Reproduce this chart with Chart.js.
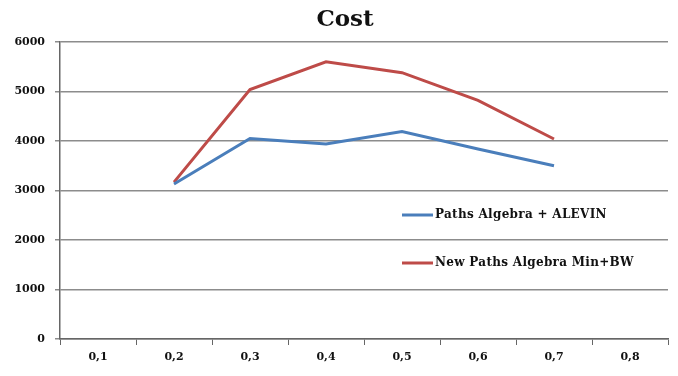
<!DOCTYPE html>
<html>
<head>
<meta charset="utf-8">
<script src="https://cdn.jsdelivr.net/npm/chart.js@4/dist/chart.umd.min.js"></script>
<style>
  html, body { margin: 0; padding: 0; background: #fff; }
  #wrap { width: 678px; height: 376px; }
</style>
</head>
<body>
<div id="wrap"><canvas id="cost"></canvas></div>
<script>
const categories = ['0,1', '0,2', '0,3', '0,4', '0,5', '0,6', '0,7', '0,8'];
const series_names = ['Paths Algebra + ALEVIN', 'New Paths Algebra Min+BW'];
const paths_alevin = [null, 3130, 4050, 3940, 4190, 3840, 3500, null];
const paths_minbw = [null, 3170, 5040, 5600, 5380, 4820, 4040, null];
const y_ticks = [0, 1000, 2000, 3000, 4000, 5000, 6000];
const chart_title = 'Cost';

const serif = '"DejaVu Serif", "Liberation Serif", serif';
const grid_color = '#8c8c8c';

// title sits a bit right of the canvas centre, so draw it by hand
const titlePlugin = {
    id: 'titlePlugin',
    afterDraw(chart) {
        const ctx = chart.ctx;
        ctx.save();
        ctx.fillStyle = '#111';
        ctx.font = 'bold 23px ' + serif;
        ctx.textAlign = 'center';
        ctx.textBaseline = 'middle';
        ctx.fillText(chart_title, 345, 20);
        ctx.restore();
    }
};

// legend drawn inside the plot, to the right
const insideLegend = {
    id: 'insideLegend',
    afterDatasetsDraw(chart) {
        const ctx = chart.ctx;
        const rows = [215, 263];
        ctx.save();
        chart.data.datasets.forEach((ds, i) => {
            const y = rows[i];
            ctx.strokeStyle = ds.borderColor;
            ctx.lineWidth = 3;
            ctx.beginPath();
            ctx.moveTo(402, y);
            ctx.lineTo(433, y);
            ctx.stroke();
            ctx.fillStyle = '#111';
            ctx.font = 'bold 12px ' + serif;
            ctx.letterSpacing = '0.3px';
            ctx.textBaseline = 'middle';
            ctx.fillText(ds.label, 435, y);
        });
        ctx.restore();
    }
};

new Chart(document.getElementById('cost').getContext('2d'), {
    type: 'line',
    data: {
        labels: categories,
        datasets: [{
            label: series_names[0],
            data: paths_alevin,
            borderColor: '#4a7ebb',
            borderWidth: 3,
            pointRadius: 0,
            tension: 0,
            spanGaps: false
        }, {
            label: series_names[1],
            data: paths_minbw,
            borderColor: '#be4b48',
            borderWidth: 3,
            pointRadius: 0,
            tension: 0,
            spanGaps: false
        }]
    },
    options: {
        responsive: true,
        maintainAspectRatio: false,
        animation: false,
        layout: { padding: { left: 0, right: 10, top: 42, bottom: 0 } },
        plugins: {
            legend: { display: false },
            tooltip: { enabled: false },
            title: { display: false }
        },
        scales: {
            x: {
                offset: true,
                grid: {
                    offset: true,
                    drawOnChartArea: false,
                    drawTicks: true,
                    tickLength: 6,
                    color: '#666'
                },
                border: { color: '#666', width: 1.5 },
                ticks: {
                    color: '#111',
                    font: { family: serif, size: 11, weight: 'bold' },
                    padding: 6,
                    maxRotation: 0
                },
                afterFit(scale) { scale.height = 37; }
            },
            y: {
                min: 0,
                max: 6000,
                afterBuildTicks(scale) { scale.ticks = y_ticks.map(v => ({ value: v })); },
                grid: {
                    color: grid_color,
                    lineWidth: 1.5,
                    drawTicks: true,
                    tickLength: 5
                },
                border: { color: '#666', width: 1.5 },
                ticks: {
                    color: '#111',
                    font: { family: serif, size: 11, weight: 'bold' },
                    padding: 10,
                    callback: (v) => String(v)
                },
                afterFit(scale) { scale.width = 60; }
            }
        }
    },
    plugins: [insideLegend, titlePlugin]
});
</script>
</body>
</html>
